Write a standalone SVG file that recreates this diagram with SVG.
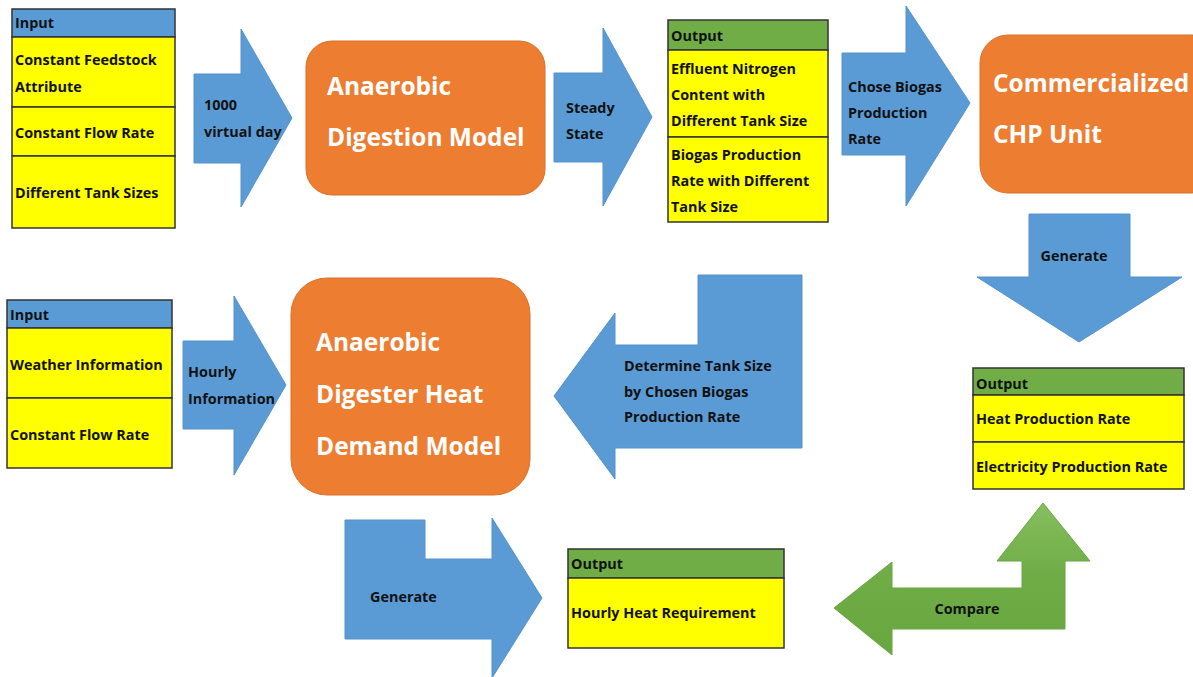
<svg xmlns="http://www.w3.org/2000/svg" width="1193" height="677" viewBox="0 0 1193 677">
<defs>
<linearGradient id="gg" x1="0" y1="0" x2="0" y2="1" gradientUnits="objectBoundingBox">
<stop offset="0" stop-color="#86bf5f"/>
<stop offset="0.45" stop-color="#70ad47"/>
<stop offset="1" stop-color="#68a63f"/>
</linearGradient>
<style>
text{font-family:"Open Sans","Liberation Sans",sans-serif;font-weight:bold;}
.t{font-size:14.4px;fill:#111;}
.big{font-size:24.5px;fill:#fff;}
.hb{fill:#5b9bd5;stroke:#333;stroke-width:1.5;}
.hg{fill:#70ad47;stroke:#333;stroke-width:1.5;}
.row{fill:#ffff00;stroke:#333;stroke-width:1.5;}
.arr{fill:#5b9bd5;stroke:#5592cc;stroke-width:1;}
.box{fill:#ed7d31;stroke:#d9702a;stroke-width:1;}
</style>
</defs>
<rect width="1193" height="677" fill="#fff"/>

<g id="input1">
<rect class="hb" x="12" y="9" width="163" height="28"/>
<rect class="row" x="12" y="37" width="163" height="70"/>
<rect class="row" x="12" y="107" width="163" height="49"/>
<rect class="row" x="12" y="156" width="163" height="72"/>
<text class="t" x="15" y="28">Input</text>
<text class="t" x="15" y="65">Constant Feedstock</text>
<text class="t" x="15" y="92">Attribute</text>
<text class="t" x="15" y="138">Constant Flow Rate</text>
<text class="t" x="15" y="198">Different Tank Sizes</text>
</g>

<g id="adm">
<rect class="box" x="306" y="41" width="239" height="154" rx="26"/>
<text class="big" x="327" y="95">Anaerobic</text>
<text class="big" x="327" y="146">Digestion Model</text>
</g>

<g id="output1">
<rect class="hg" x="668" y="20" width="160" height="30"/>
<rect class="row" x="668" y="50" width="160" height="87"/>
<rect class="row" x="668" y="137" width="160" height="85"/>
<text class="t" x="671" y="41">Output</text>
<text class="t" x="671" y="74">Effluent Nitrogen</text>
<text class="t" x="671" y="100">Content with</text>
<text class="t" x="671" y="126">Different Tank Size</text>
<text class="t" x="671" y="160">Biogas Production</text>
<text class="t" x="671" y="186">Rate with Different</text>
<text class="t" x="671" y="212">Tank Size</text>
</g>

<g id="chp">
<rect class="box" x="980" y="35" width="240" height="158" rx="28"/>
<text class="big" x="993" y="92">Commercialized</text>
<text class="big" x="993" y="143">CHP Unit</text>
</g>

<g id="input2">
<rect class="hb" x="7" y="300" width="165" height="28"/>
<rect class="row" x="7" y="328" width="165" height="70"/>
<rect class="row" x="7" y="398" width="165" height="70"/>
<text class="t" x="10" y="320">Input</text>
<text class="t" x="10" y="370">Weather Information</text>
<text class="t" x="10" y="440">Constant Flow Rate</text>
</g>

<g id="heat">
<rect class="box" x="291" y="278" width="239" height="217" rx="36"/>
<text class="big" x="316" y="351">Anaerobic</text>
<text class="big" x="316" y="403">Digester Heat</text>
<text class="big" x="316" y="455">Demand Model</text>
</g>

<g id="output2">
<rect class="hg" x="973" y="368" width="211" height="27"/>
<rect class="row" x="973" y="395" width="211" height="47"/>
<rect class="row" x="973" y="442" width="211" height="47"/>
<text class="t" x="976" y="389">Output</text>
<text class="t" x="976" y="424">Heat Production Rate</text>
<text class="t" x="976" y="472">Electricity Production Rate</text>
</g>

<g id="output3">
<rect class="hg" x="568" y="549" width="216" height="29"/>
<rect class="row" x="568" y="578" width="216" height="70"/>
<text class="t" x="571" y="569">Output</text>
<text class="t" x="571" y="618">Hourly Heat Requirement</text>
</g>

<g id="connectors">
<polygon class="arr" points="194,74 241,74 241,29 292,118 241,207 241,163 194,163"/>
<text class="t" x="204" y="110">1000</text>
<text class="t" x="204" y="137">virtual day</text>

<polygon class="arr" points="554,73 603,73 603,28 652,117 603,206 603,162 554,162"/>
<text class="t" x="566" y="113">Steady</text>
<text class="t" x="566" y="139">State</text>

<polygon class="arr" points="842,53 906,53 906,6 970,103 906,206 906,155 842,155"/>
<text class="t" x="848" y="92">Chose Biogas</text>
<text class="t" x="848" y="118">Production</text>
<text class="t" x="848" y="144">Rate</text>

<polygon class="arr" points="1029,214 1130,214 1130,277 1182,277 1079,342 977,277 1029,277"/>
<text class="t" x="1074" y="261" text-anchor="middle">Generate</text>

<polygon class="arr" points="183,341 234,341 234,296 286,385 234,475 234,429 183,429"/>
<text class="t" x="188" y="377">Hourly</text>
<text class="t" x="188" y="404">Information</text>

<polygon class="arr" points="698,275 802,275 802,448 615,448 615,479 554,396 615,313 615,345 698,345"/>
<text class="t" x="624" y="371">Determine Tank Size</text>
<text class="t" x="624" y="397">by Chosen Biogas</text>
<text class="t" x="624" y="422">Production Rate</text>

<polygon class="arr" points="345,520 425,520 425,559 492,559 492,518 542,598 492,678 492,639 345,639"/>
<text class="t" x="370" y="602">Generate</text>

<polygon fill="url(#gg)" stroke="#6aa643" stroke-width="1" points="1043,503 1090,561 1065,561 1065,629 892,629 892,655 834,608 892,562 892,588 1022,588 1022,561 997,561"/>
<text class="t" x="967" y="614" text-anchor="middle">Compare</text>
</g>
</svg>
